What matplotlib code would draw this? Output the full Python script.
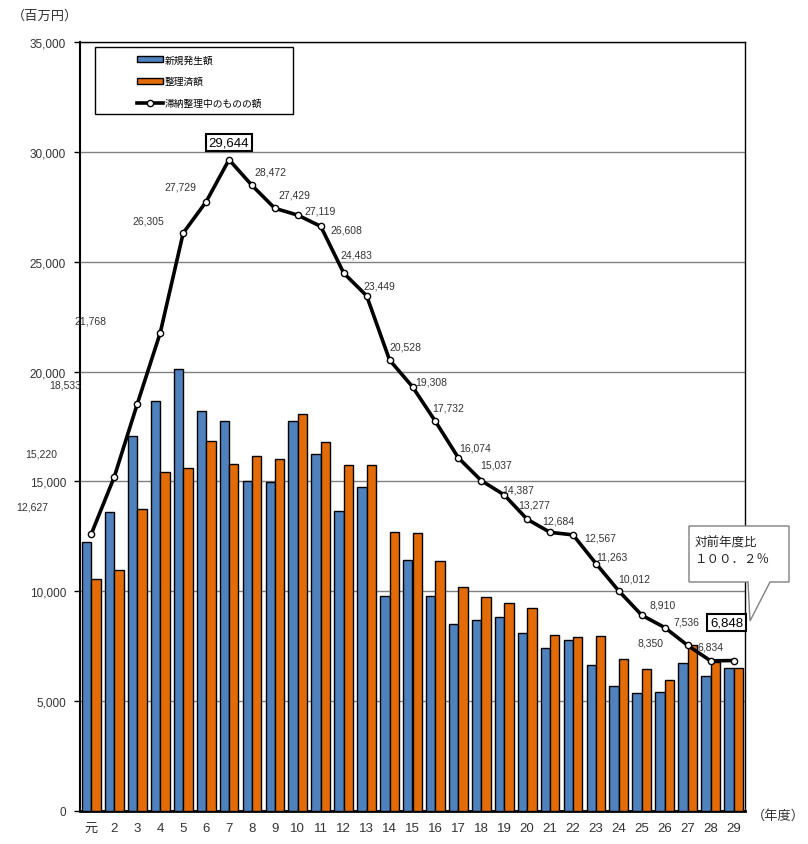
import numpy as np
import matplotlib
matplotlib.use("Agg")
import matplotlib.pyplot as plt
from matplotlib.patches import Patch, Rectangle, Polygon
from matplotlib.lines import Line2D

plt.rcParams['font.family'] = ['Liberation Sans', 'Noto Sans CJK JP', 'DejaVu Sans']

years = ["元"] + [str(i) for i in range(2, 30)]
new_amount = [12250, 13600, 17060, 18650, 20110, 18210, 17730, 15000, 14970, 17740,
              16270, 13640, 14730, 9790, 11430, 9800, 8510, 8710, 8820, 8110,
              7400, 7800, 6660, 5690, 5350, 5410, 6740, 6160, 6510]
settled = [10580, 10970, 13760, 15420, 15590, 16820, 15800, 16180, 16010, 18050,
           16780, 15750, 15750, 12700, 12650, 11380, 10180, 9760, 9480, 9220,
           8000, 7920, 7980, 6940, 6470, 5980, 7560, 6770, 6510]
balance = [12627, 15220, 18533, 21768, 26305, 27729, 29644, 28472, 27429, 27119,
           26608, 24483, 23449, 20528, 19308, 17732, 16074, 15037, 14387, 13277,
           12684, 12567, 11263, 10012, 8910, 8350, 7536, 6834, 6848]
legend_labels = ["新規発生額", "整理済額", "滞納整理中のものの額"]

# label offsets in pixels (dx, dy up) from each point
lbl_off = [(-59, 27), (-73, 23), (-72, 19), (-70, 12), (-35, 13), (-26, 15), (0, 17),
           (18, 14), (20, 14), (22, 5), (26, -3), (13, 19), (13, 10), (16, 13),
           (19, 5), (13, 14), (17, 10), (15, 16), (14, 5), (7, 15), (8, 12),
           (27, -3), (16, 7), (15, 13), (21, 11), (-14, -15), (-1, 24), (0, 14), (-7, 38)]

blue = "#4F81BD"
orange = "#E36C09"

fig = plt.figure(figsize=(8.08, 8.45), dpi=100)
ax = fig.add_axes([80/808, 1-812/845, 665/808, 769/845])

x = np.arange(len(years))
w = 0.41
ax.bar(x - w/2, new_amount, w, color=blue, edgecolor="black", linewidth=1, zorder=3)
ax.bar(x + w/2, settled, w, color=orange, edgecolor="black", linewidth=1, zorder=3)
ax.plot(x, balance, color="black", linewidth=2.6, marker="o", markersize=4.5,
        markerfacecolor="white", markeredgecolor="black", markeredgewidth=1, zorder=5)

for i, v in enumerate(balance):
    dx, dy = lbl_off[i]
    txt = f"{v:,}"
    if i in (6, len(balance) - 1):
        ax.annotate(txt, (x[i], v), xytext=(dx*0.72, dy*0.72), textcoords="offset points",
                    ha="center", va="center", fontsize=9.5, color="black", zorder=7,
                    bbox=dict(boxstyle="square,pad=0.2", fc="white", ec="black", lw=1.5))
    else:
        ax.annotate(txt, (x[i], v), xytext=(dx*0.72, dy*0.72), textcoords="offset points",
                    ha="center", va="center", fontsize=7.5, color="#333333", zorder=7)

ax.set_xlim(-0.5, len(years) - 0.5)
ax.set_ylim(0, 35000)
ax.set_yticks(np.arange(0, 35001, 5000))
ax.set_yticklabels([f"{v:,}" for v in range(0, 35001, 5000)], fontsize=8.5, color="#333333")
ax.set_xticks(x)
ax.set_xticklabels(years, fontsize=9.5, color="#333333")
ax.tick_params(axis="x", length=0, pad=8)
ax.tick_params(axis="y", length=4, width=1, pad=6)
ax.grid(axis="y", color="#808080", linewidth=1, zorder=0)
ax.set_axisbelow(True)
for s in ax.spines.values():
    s.set_color("black")
    s.set_linewidth(1)
ax.spines["left"].set_linewidth(1.5)
ax.spines["bottom"].set_linewidth(2)

# legend
ax.add_patch(Rectangle((0.0226, 0.906), 0.297, 0.0875, transform=ax.transAxes,
                       fc="white", ec="black", lw=1, zorder=8))
handles = [Patch(fc=blue, ec="black", lw=1),
           Patch(fc=orange, ec="black", lw=1),
           Line2D([], [], color="black", lw=2.6, marker="o", markersize=4.5,
                  markerfacecolor="white", markeredgecolor="black")]
leg = ax.legend(handles, legend_labels, loc="upper left", bbox_to_anchor=(0.072, 0.995),
                frameon=False, fontsize=7, handlelength=2.7, handleheight=0.5,
                labelspacing=1.2, handletextpad=0.2)
leg.set_zorder(9)

# callout
px = lambda p: (p - 80) / (665/29) - 0.5
py = lambda p: (812 - p) * 35000 / 769
call = Polygon([(px(689), py(527)), (px(789), py(527)), (px(789), py(583)),
                (px(770), py(583)), (px(750), py(622)), (px(748), py(583)),
                (px(689), py(583))], closed=True, fc="white", ec="#808080", lw=1,
               zorder=8, clip_on=False)
ax.add_patch(call)
ax.text(px(695), py(543), "対前年度比", fontsize=9, color="#222222", va="center",
        ha="left", zorder=9)
ax.text(px(695), py(560), "１００．２％", fontsize=9, color="#222222", va="center",
        ha="left", zorder=9)

fig.text(12/808, 1-16/845, "（百万円）", fontsize=9.5, color="#333333", va="center", ha="left")
fig.text(752/808, 1-816/845, "（年度）", fontsize=9.5, color="#333333", va="center", ha="left")

fig.savefig("out.png", dpi=100)
